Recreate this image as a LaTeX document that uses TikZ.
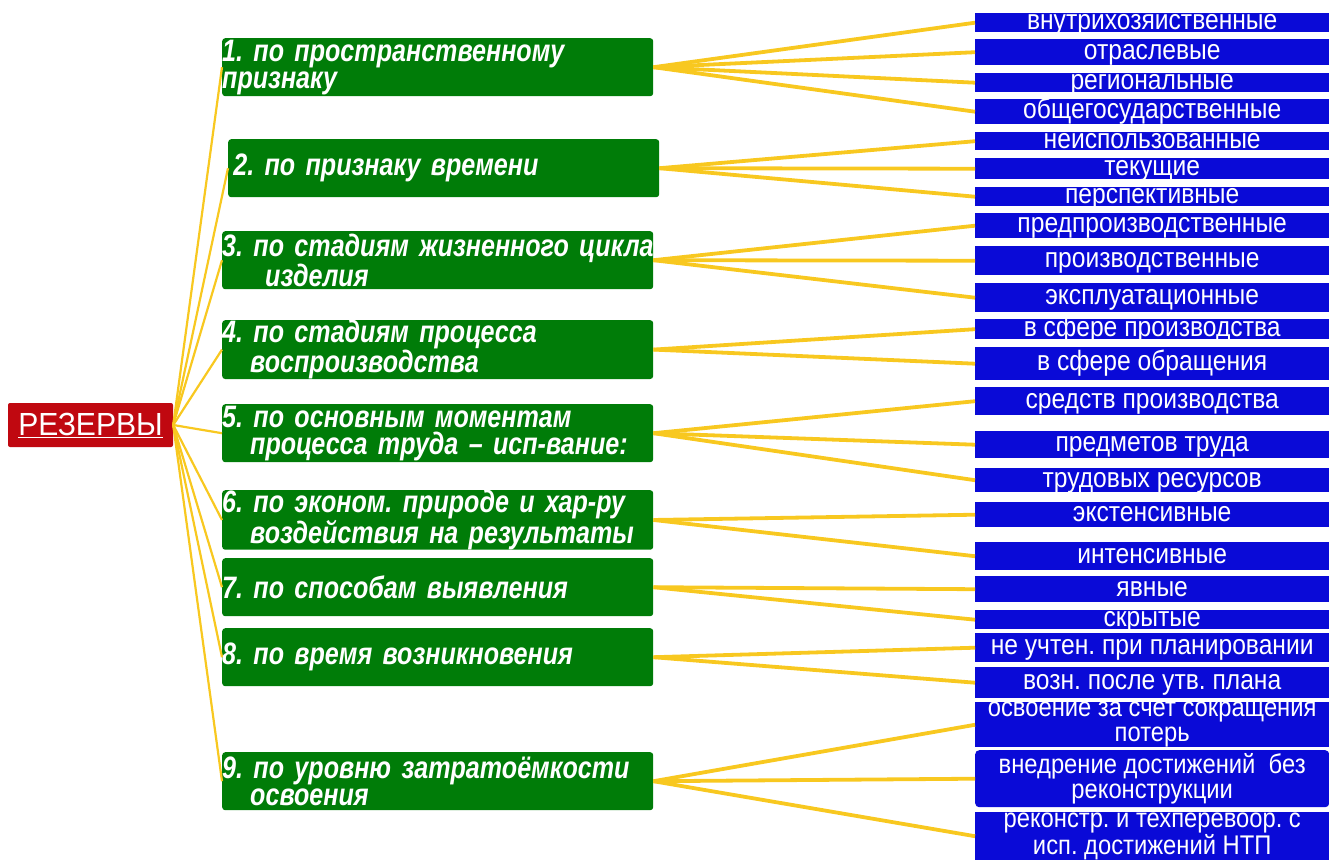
\documentclass[tikz,border=0pt]{standalone}
\usepackage{fontspec}
\setmainfont{Liberation Sans}
\newfontfamily\gfont[FakeStretch=0.81]{Liberation Sans}
\newfontfamily\itemfont[FakeStretch=0.88]{Liberation Sans}
\newfontfamily\rfont[FakeStretch=0.94]{Liberation Sans}
\DeclareRobustCommand\grpfont{\gfont\bfseries\itshape\fontsize{31}{27}\selectfont\spaceskip=5pt\relax}
\definecolor{rezred}{RGB}{192,8,16}
\definecolor{grpgreen}{RGB}{0,124,8}
\definecolor{itblue}{RGB}{10,10,215}
\definecolor{lnyellow}{RGB}{248,200,32}
\frenchspacing

\begin{document}
\begin{tikzpicture}[x=1pt,y=-1pt]
\useasboundingbox (0,0) rectangle (1329,860);

\node[rectangle, fill=rezred, text=white, rounded corners=2pt, minimum width=165, minimum height=44,
      inner sep=0pt, font=\rfont\fontsize{32}{32}\selectfont] (R) at (90.5,425) {\underline{РЕЗЕРВЫ}};

\begin{scope}[every node/.style={rectangle, fill=grpgreen, text=white, rounded corners=3pt, anchor=north west,
              minimum width=431, minimum height=58, text width=431, inner xsep=0pt, inner ysep=0pt, align=left,
              font=\grpfont}]
  \node (g1) at (222,38) {1. по пространственному\\признаку};
  \node (g2) at (228,139) {\,2. по признаку времени};
  \node (g3) at (222,231) {\mbox{3. по стадиям жизненного цикла}\\\hspace*{43pt}изделия};
  \node (g4) at (222,320) {4. по стадиям процесса\\\hspace*{28pt}воспроизводства};
  \node (g5) at (222,404) {5. по основным моментам\\\hspace*{28pt}\mbox{процесса труда – исп-вание:}};
  \node (g6) at (222,490) {6. по эконом. природе и хар-ру\\\hspace*{28pt}\mbox{воздействия на результаты}};
  \node (g7) at (222,558) {7. по способам выявления};
  \node (g8) at (222,628) {8. по время возникновения};
  \node (g9) at (222,752) {9. по уровню затратоёмкости\\\hspace*{28pt}освоения};
\end{scope}

\begin{scope}[every node/.style={rectangle, fill=itblue, text=white, anchor=north west, minimum width=354,
              inner sep=0pt, align=center, font=\itemfont\fontsize{28}{24}\selectfont},
              oneline/.style={text height=14pt, text depth=0pt},
              twoline/.style={font=\itemfont\fontsize{27}{25}\selectfont}]
  \node[oneline, minimum height=19] (b1) at (975,13) {внутрихозяйственные};
  \node[oneline, minimum height=26] (b2) at (975,39) {отраслевые};
  \node[oneline, minimum height=19] (b3) at (975,73) {региональные};
  \node[oneline, minimum height=25] (b4) at (975,99) {общегосударственные};
  \node[oneline, minimum height=18] (b5) at (975,132) {неиспользованные};
  \node[oneline, minimum height=21] (b6) at (975,158) {текущие};
  \node[oneline, minimum height=19] (b7) at (975,187) {перспективные};
  \node[oneline, minimum height=25] (b8) at (975,213) {предпроизводственные};
  \node[oneline, minimum height=29] (b9) at (975,246) {производственные};
  \node[oneline, minimum height=29] (b10) at (975,283) {эксплуатационные};
  \node[oneline, minimum height=20] (b11) at (975,319) {в сфере производства};
  \node[oneline, minimum height=33] (b12) at (975,347) {в сфере обращения};
  \node[oneline, minimum height=28] (b13) at (975,387) {средств производства};
  \node[oneline, minimum height=27] (b14) at (975,431) {предметов труда};
  \node[oneline, minimum height=24] (b15) at (975,468) {трудовых ресурсов};
  \node[oneline, minimum height=25] (b16) at (975,502) {экстенсивные};
  \node[oneline, minimum height=28] (b17) at (975,542) {интенсивные};
  \node[oneline, minimum height=26] (b18) at (975,576) {явные};
  \node[oneline, minimum height=19] (b19) at (975,610) {скрытые};
  \node[oneline, minimum height=29] (b20) at (975,633) {не учтен. при планировании};
  \node[oneline, minimum height=31] (b21) at (975,667) {возн. после утв. плана};
  \node[twoline, minimum height=43] (b22) at (975,702) {освоение за счет сокращения\\потерь};
  \node[twoline, minimum height=57, rounded corners=4pt] (b23) at (975,750) {внедрение достижений~ без\\реконструкции};
  \node[twoline, minimum height=48] (b24) at (975,812) {реконстр. и техперевоор. с\\исп. достижений НТП};
\end{scope}

\begin{scope}[every edge/.style={draw=lnyellow, line width=2.2pt}]
  \path (R.east) edge (g1.west) edge (g2.west) edge (g3.west) edge (g4.west) edge (g5.west)
                 edge (g6.west) edge (g7.west) edge (g8.west) edge (g9.west);
\end{scope}
\begin{scope}[every edge/.style={draw=lnyellow, line width=3.8pt}]
  \path (g1.east) edge (b1.west) edge (b2.west) edge (b3.west) edge (b4.west);
  \path (g2.east) edge (b5.west) edge (b6.west) edge (b7.west);
  \path (g3.east) edge (b8.west) edge (b9.west) edge (b10.west);
  \path (g4.east) edge (b11.west) edge (b12.west);
  \path (g5.east) edge (b13.west) edge (b14.west) edge (b15.west);
  \path (g6.east) edge (b16.west) edge (b17.west);
  \path (g7.east) edge (b18.west) edge (b19.west);
  \path (g8.east) edge (b20.west) edge (b21.west);
  \path (g9.east) edge (b22.west) edge (b23.west) edge (b24.west);
\end{scope}

\end{tikzpicture}
\end{document}
